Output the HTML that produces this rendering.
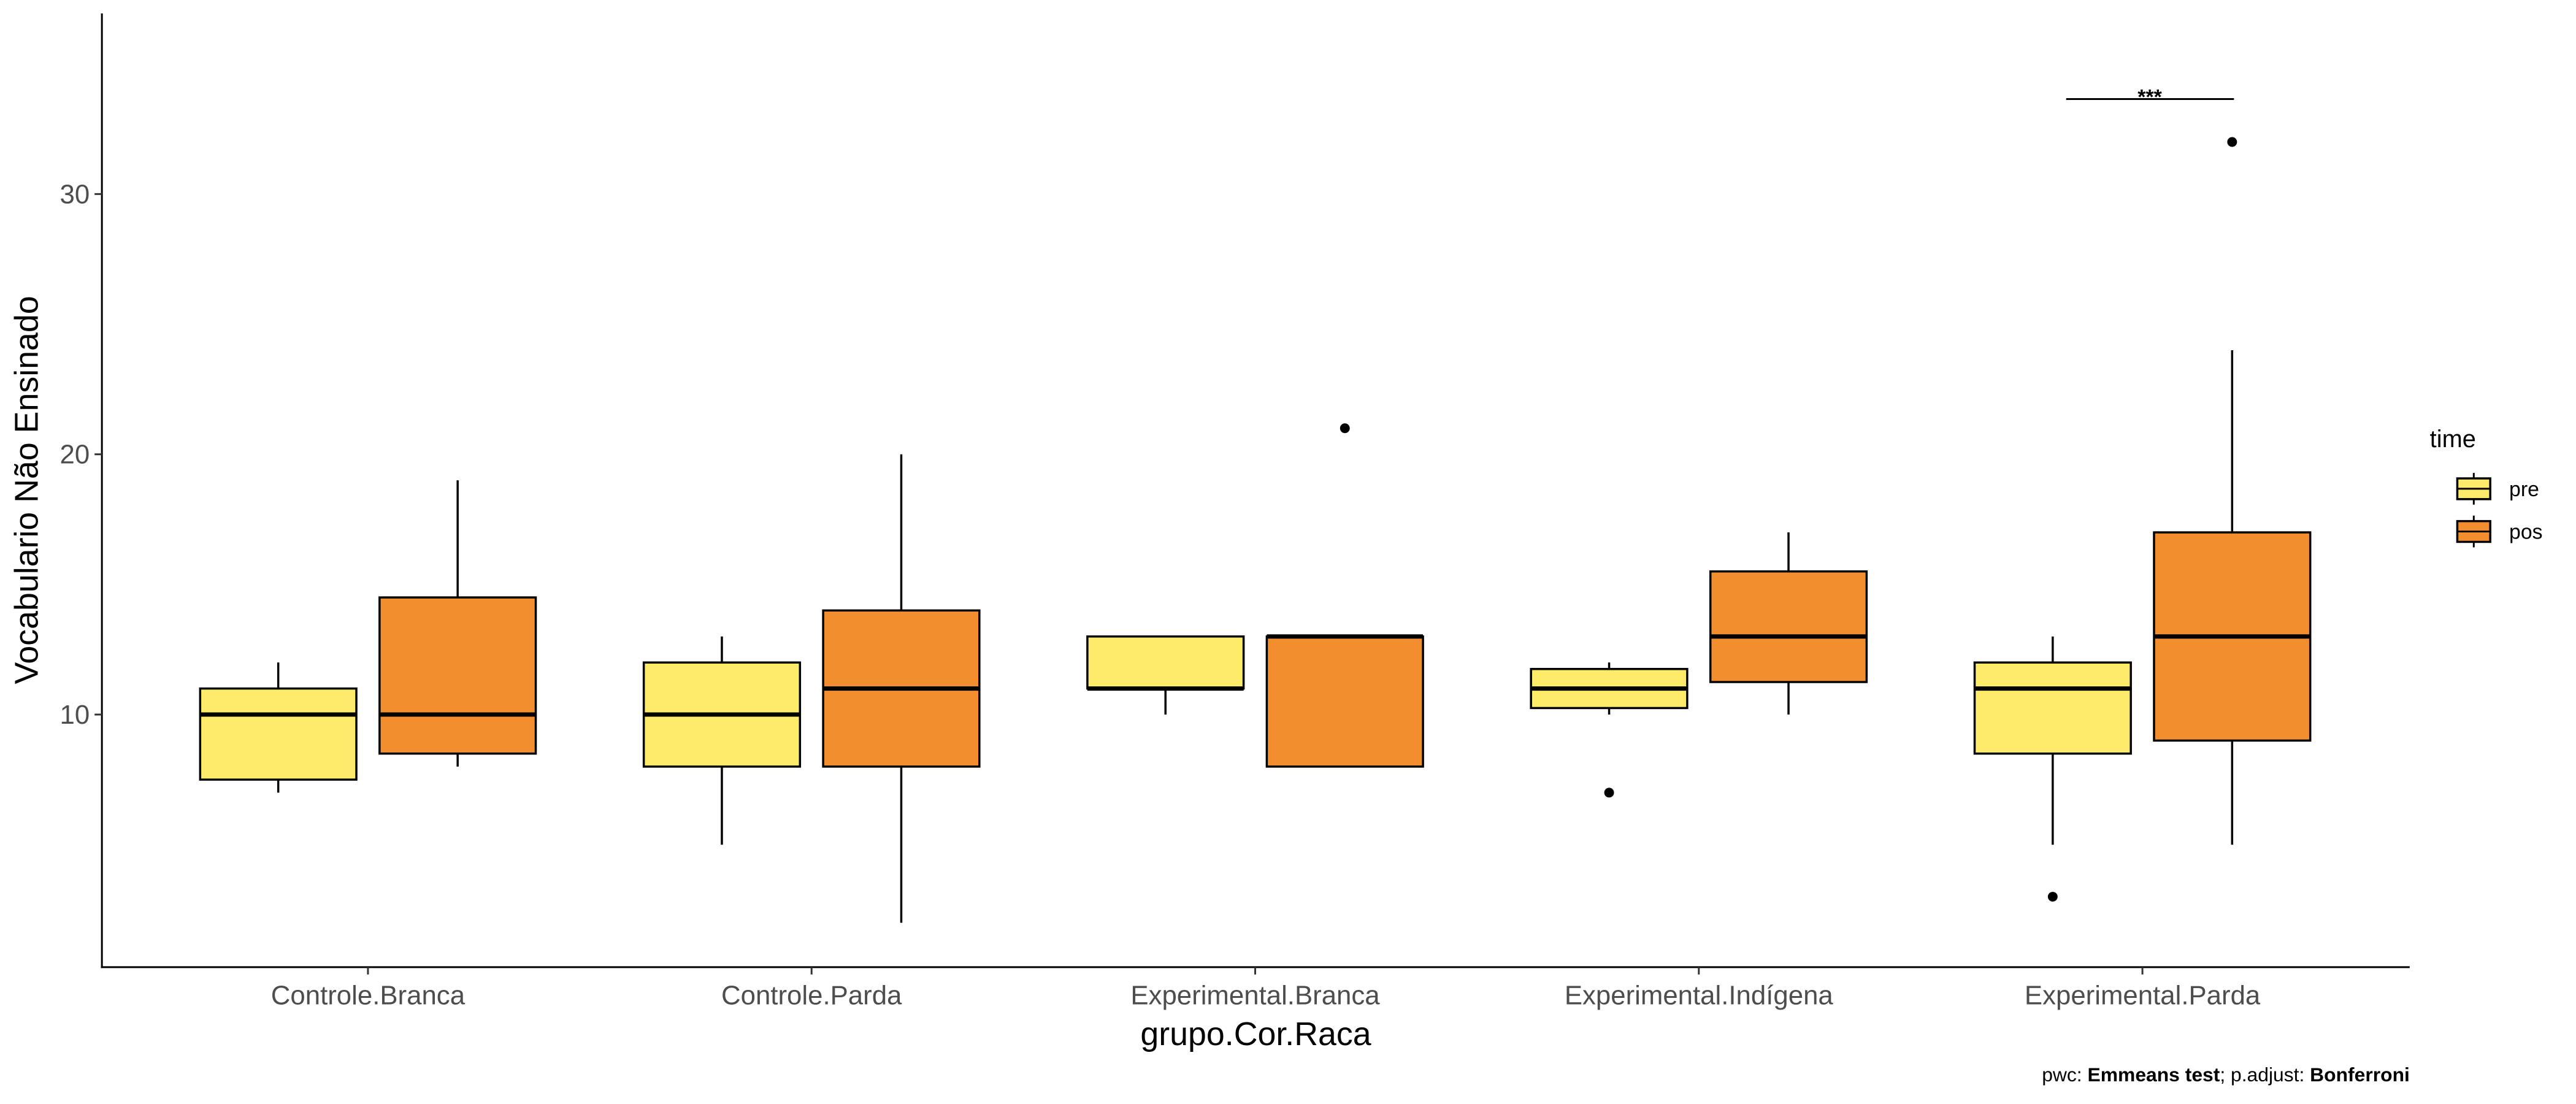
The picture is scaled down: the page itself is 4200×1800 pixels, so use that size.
<!DOCTYPE html>
<html><head><meta charset="utf-8"><style>
html,body{margin:0;padding:0;background:#fff;width:4200px;height:1800px;overflow:hidden}
svg{display:block;font-family:"Liberation Sans",sans-serif}
</style></head><body>
<svg id="chart" width="4200" height="1800" viewBox="0 0 4200 1800">
<g id="plot" transform="scale(0.9949)"></g>
</svg>
<script>
const categories=["Controle.Branca","Controle.Parda","Experimental.Branca","Experimental.Indígena","Experimental.Parda"];
const seriesNames=["pre","pos"];
const colors=["#FFEB6A","#F28E2E"];
// [lowWhisker, q1, median, q3, highWhisker]
const preStats=[[7,7.5,10,11,12],[5,8,10,12,13],[10,11,11,13,13],[10,10.25,11,11.75,12],[5,8.5,11,12,13]];
const posStats=[[8,8.5,10,14.5,19],[2,8,11,14,20],[8,8,13,13,13],[10,11.25,13,15.5,17],[5,9,13,17,24]];
const preOutliers=[[],[],[],[7],[3]];
const posOutliers=[[],[],[21],[],[32]];
const yTicks=[10,20,30];

const svg=document.getElementById('plot');
const NS='http://www.w3.org/2000/svg';
const X0=167,X1=3949,Ytop=22,Ybot=1585;
function y(v){return 1171-(v-10)*42.65;}
function xc(i){return 603+i*727;}
function mk(t,a){const e=document.createElementNS(NS,t);for(const k in a)e.setAttribute(k,a[k]);svg.appendChild(e);return e;}

let ax=mk('line',{x1:X0,y1:Ytop,x2:X0,y2:Ybot+1.5,stroke:'#000','stroke-width':3});


ax=mk('line',{x1:X0-1.5,y1:Ybot,x2:X1,y2:Ybot,stroke:'#000','stroke-width':3});



yTicks.forEach(v=>{
  const t=mk('line',{x1:X0-12,y1:y(v),x2:X0,y2:y(v),stroke:'#333','stroke-width':3});
  
  
  const l=mk('text',{x:X0-20,y:y(v)+15,'text-anchor':'end','font-size':44,fill:'#4d4d4d'});
  l.textContent=v;
  
  
});

categories.forEach((c,i)=>{
  const t=mk('line',{x1:xc(i),y1:Ybot,x2:xc(i),y2:Ybot+12,stroke:'#333','stroke-width':3});
  
  
  const l=mk('text',{x:xc(i),y:1646,'text-anchor':'middle','font-size':44,fill:'#4d4d4d'});
  l.textContent=c;
  
  
});

function box(cx,s,col,outs,name){
  const w=256;
  let e=mk('line',{x1:cx,y1:y(s[0]),x2:cx,y2:y(s[4]),stroke:'#000','stroke-width':3.5});
  
  
  e=mk('rect',{x:cx-w/2,y:y(s[3]),width:w,height:Math.max(0.5,y(s[1])-y(s[3])),fill:col,stroke:'#000','stroke-width':3.5});
  
  
  e=mk('line',{x1:cx-w/2,y1:y(s[2]),x2:cx+w/2,y2:y(s[2]),stroke:'#000','stroke-width':7});
  
  
  outs.forEach(o=>{
    const p=mk('circle',{cx:cx,cy:y(o),r:8,fill:'#000'});
    
    
  });
}
categories.forEach((c,i)=>{
  box(xc(i)-147,preStats[i],colors[0],preOutliers[i],'pre');
  box(xc(i)+147,posStats[i],colors[1],posOutliers[i],'pos');
});

let b=mk('line',{x1:xc(4)-125,y1:y(33.65),x2:xc(4)+150,y2:y(33.65),stroke:'#000','stroke-width':3});


b=mk('text',{x:xc(4)+12,y:y(33.65)+8,'text-anchor':'middle','font-size':34,'font-weight':'bold'});
b.textContent='***';



let t=mk('text',{x:0,y:0,'text-anchor':'middle','font-size':54,transform:'translate(62,803) rotate(-90)'});
t.textContent='Vocabulario Não Ensinado';


t=mk('text',{x:2058,y:1713,'text-anchor':'middle','font-size':54});
t.textContent='grupo.Cor.Raca';



t=mk('text',{x:3982,y:733,'font-size':40});
t.textContent='time';


seriesNames.forEach((n,k)=>{
  const yy=801+k*70;
  let e=mk('line',{x1:4054,y1:yy-26,x2:4054,y2:yy+26,stroke:'#000','stroke-width':3});
  
  
  e=mk('rect',{x:4027,y:yy-17,width:54,height:34,fill:colors[k],stroke:'#000','stroke-width':3.5});
  
  
  e=mk('line',{x1:4027,y1:yy,x2:4081,y2:yy,stroke:'#000','stroke-width':3});
  
  
  e=mk('text',{x:4112,y:yy+12,'font-size':34});
  e.textContent=n;
  
  
});

t=mk('text',{x:3949,y:1772,'text-anchor':'end','font-size':32});
t.innerHTML='pwc: <tspan font-weight="bold">Emmeans test</tspan>; p.adjust: <tspan font-weight="bold">Bonferroni</tspan>';


</script>
</body></html>
